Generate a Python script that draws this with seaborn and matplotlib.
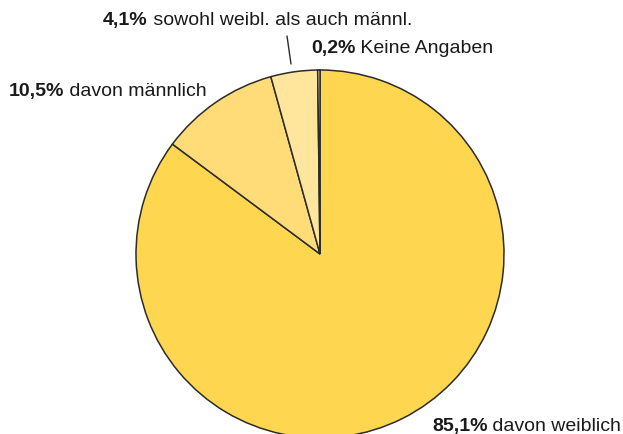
import seaborn as sns
import matplotlib.pyplot as plt

# Geschlechterverteilung
labels = ['davon weiblich', 'davon männlich', 'sowohl weibl. als auch männl.', 'Keine Angaben']
values = [85.1, 10.5, 4.1, 0.2]
pct_text = ['85,1%', '10,5%', '4,1%', '0,2%']
colors = ['#FFD64F', '#FFDC78', '#FFE69C', '#FFF0C0']

sns.set_style('white')
plt.rcParams['font.family'] = ['Liberation Sans', 'DejaVu Sans']

W, H = 623, 434
fig = plt.figure(figsize=(W / 100, H / 100), dpi=100)
ax = fig.add_axes([0, 0, 1, 1])

# pie centre and radius in pixels
cx, cy, r = 320, 254, 184
ax.pie(values, startangle=90, counterclock=False, colors=colors,
       wedgeprops=dict(edgecolor='#2b2b2b', linewidth=1.1))
ax.set_xlim(-cx / r, (W - cx) / r)
ax.set_ylim(-(H - cy) / r, cy / r)
ax.set_aspect('equal')
ax.axis('off')

# label positions (pixel, from top-left), baseline aligned
label_pos = {0: (432, 431), 1: (9, 96), 2: (103, 25), 3: (311, 53)}
fs = 14
for i, (px, py) in label_pos.items():
    t = fig.text(px / W, 1 - py / H, pct_text[i], fontsize=fs, fontweight='bold',
                 color='#1a1a1a', va='baseline', ha='left')
    ax.annotate(' ' + labels[i], xy=(1, 0), xycoords=t, va='bottom', ha='left',
                fontsize=fs, color='#1a1a1a')

# leader line for the 4,1% slice
ax.plot([(287 - cx) / r, (291 - cx) / r], [(cy - 36) / r, (cy - 64) / r],
        color='#2b2b2b', linewidth=1.0, clip_on=False)

fig.savefig('out.png', dpi=100)
